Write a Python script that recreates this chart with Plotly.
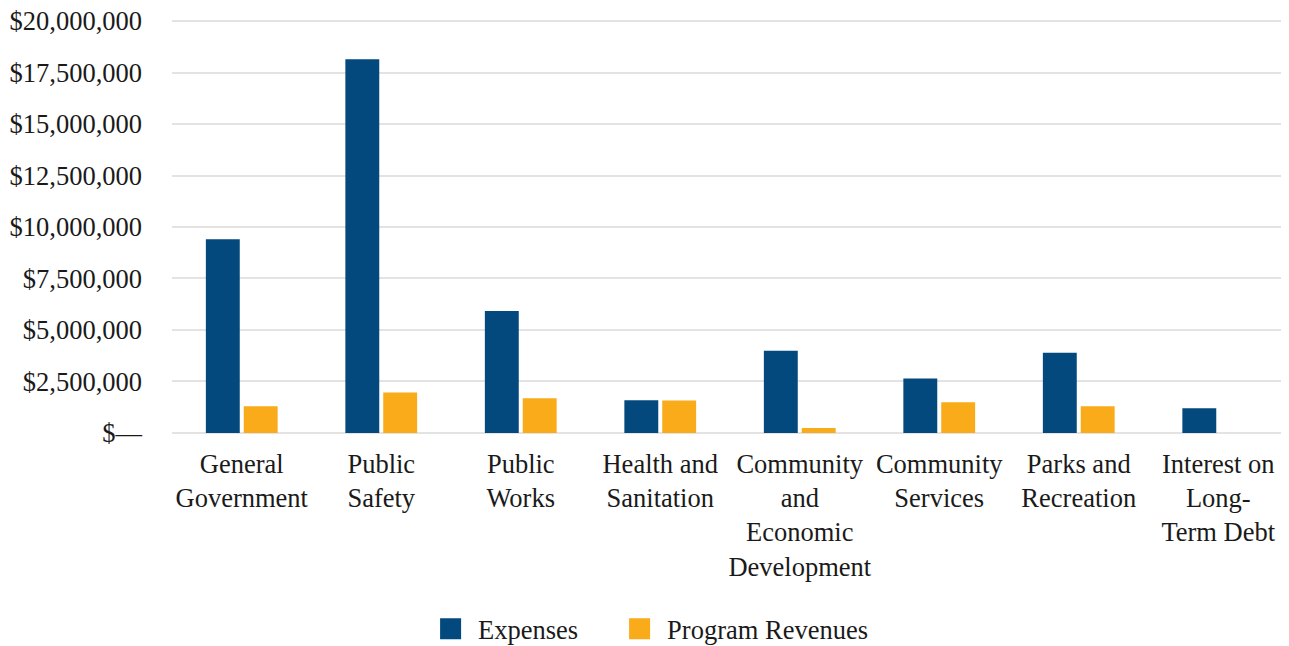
import plotly.graph_objects as go

categories = ["General<br>Government", "Public<br>Safety", "Public<br>Works", "Health and<br>Sanitation",
              "Community<br>and<br>Economic<br>Development", "Community<br>Services",
              "Parks and<br>Recreation", "Interest on<br>Long-<br>Term Debt"]
expenses = [9400000, 18150000, 5920000, 1590000, 3990000, 2640000, 3890000, 1200000]
program_revenues = [1300000, 1970000, 1680000, 1580000, 240000, 1490000, 1300000, 0]

tick_vals = [0, 2500000, 5000000, 7500000, 10000000, 12500000, 15000000, 17500000, 20000000]
tick_text = ["$—", "$2,500,000", "$5,000,000", "$7,500,000", "$10,000,000", "$12,500,000",
             "$15,000,000", "$17,500,000", "$20,000,000"]

BLUE = "#03497E"
GOLD = "#F9AB1A"
FONT = "Liberation Serif"
FS = 26.5

fig = go.Figure()
fig.add_bar(x=categories, y=expenses, name="Expenses", marker=dict(color=BLUE, line_width=0), showlegend=False)
fig.add_bar(x=categories, y=program_revenues, name="Program Revenues", marker=dict(color=GOLD, line_width=0),
            showlegend=False)
# legend entries with larger square swatches
fig.add_scatter(x=[None], y=[None], mode="markers", name="Expenses", legendwidth=129,
                marker=dict(symbol="square", size=16, color=BLUE, line=dict(color=BLUE, width=5)))
fig.add_scatter(x=[None], y=[None], mode="markers", name="Program Revenues",
                marker=dict(symbol="square", size=16, color=GOLD, line=dict(color=GOLD, width=5)))

fig.update_layout(
    width=1281, height=638,
    margin=dict(l=164, r=1, t=12, b=212, autoexpand=False),
    paper_bgcolor="white", plot_bgcolor="white",
    font=dict(family=FONT, size=FS, color="#1a1a1a"),
    barmode="group", bargap=0.457, bargroupgap=0.105,
    legend=dict(orientation="h", x=0.225, xanchor="left", y=-0.471, yanchor="middle",
                font=dict(size=FS), itemsizing="trace", itemwidth=45, tracegroupgap=0),
    xaxis=dict(showgrid=False, showline=False, ticks="", ticklabelstandoff=11, tickfont=dict(size=FS),
               automargin=False),
    yaxis=dict(range=[-50000, 20050000], tickvals=tick_vals, ticktext=tick_text, showgrid=True,
               gridcolor="#e3e3e3", gridwidth=1.8, zeroline=False, showline=False,
               ticklabelstandoff=29, tickfont=dict(size=FS), automargin=False,
               ticklabeloverflow="allow"),
)

fig.write_html("out.html")
